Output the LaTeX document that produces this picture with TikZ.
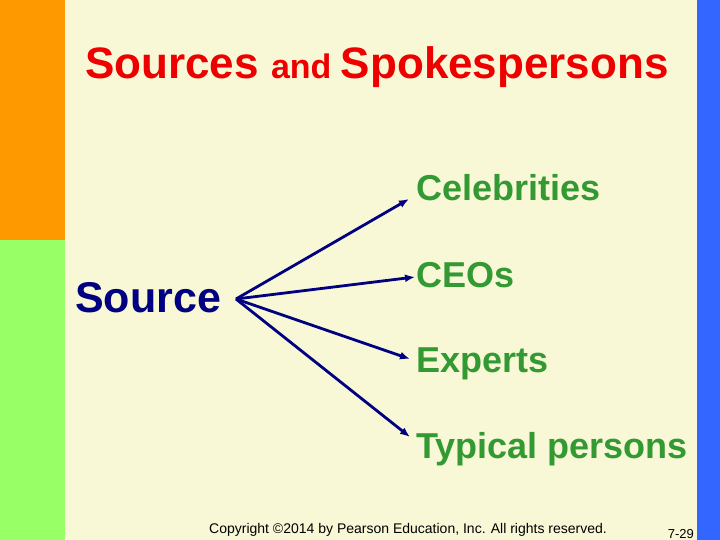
\documentclass[tikz,border=0pt]{standalone}
\usepackage{fontspec}
\setmainfont{Liberation Sans}
\usetikzlibrary{arrows.meta}

\begin{document}
\begin{tikzpicture}[x=1pt, y=-1pt,
  choice/.style={anchor=base west, inner sep=0pt, text=leaf, font=\fontsize{36}{36}\selectfont\bfseries},
  spoke/.style={draw=navy, line width=2.8pt, -{Latex[length=10pt,width=8pt]}}]
\definecolor{paper}{HTML}{F8F8D6}
\definecolor{orangebar}{HTML}{FF9900}
\definecolor{greenbar}{HTML}{99FF66}
\definecolor{bluebar}{HTML}{3366FF}
\definecolor{navy}{HTML}{000080}
\definecolor{leaf}{HTML}{339933}
\definecolor{titlered}{HTML}{EE0000}
\useasboundingbox (0,0) rectangle (720,540);
\fill[paper] (0,0) rectangle (720,540);
\fill[orangebar] (0,0) rectangle (65,240);
\fill[greenbar] (0,240) rectangle (65,540);
\fill[bluebar] (697,0) rectangle (720,540);
% title
\node[anchor=base west, inner sep=0pt, text=titlered, font=\bfseries] (title) at (85,79)
  {\fontsize{44}{44}\selectfont Sources \fontsize{34}{34}\selectfont and \fontsize{44}{44}\selectfont Spokespersons};
% source and the four kinds of spokesperson
\node[anchor=base west, inner sep=0pt, text=navy, font=\fontsize{43}{43}\selectfont\bfseries] (source) at (75,312) {Source};
\coordinate (hub) at (236,299);
\node[choice] (celeb) at (416,201) {Celebrities};
\node[choice] (ceo) at (416,287) {CEOs};
\node[choice] (expert) at (416,372) {Experts};
\node[choice] (typical) at (416,458) {Typical persons};
\draw[spoke] (hub) -- ([shift={(-7,-2)}]celeb.base west);
\draw[spoke] (hub) -- ([shift={(-1,-10)}]ceo.base west);
\draw[spoke] (hub) -- ([shift={(-6,-13)}]expert.base west);
\draw[spoke] (hub) -- ([shift={(-6,-21)}]typical.base west);
% footer
\node[anchor=base west, inner sep=0pt, font=\fontsize{14}{14}\selectfont] (copy) at (209,533)
  {Copyright \textcopyright2014 by Pearson Education, Inc. All rights reserved.};
\node[anchor=base east, inner sep=0pt, font=\fontsize{13}{13}\selectfont] (page) at (694,538) {7-29};
\end{tikzpicture}
\end{document}
